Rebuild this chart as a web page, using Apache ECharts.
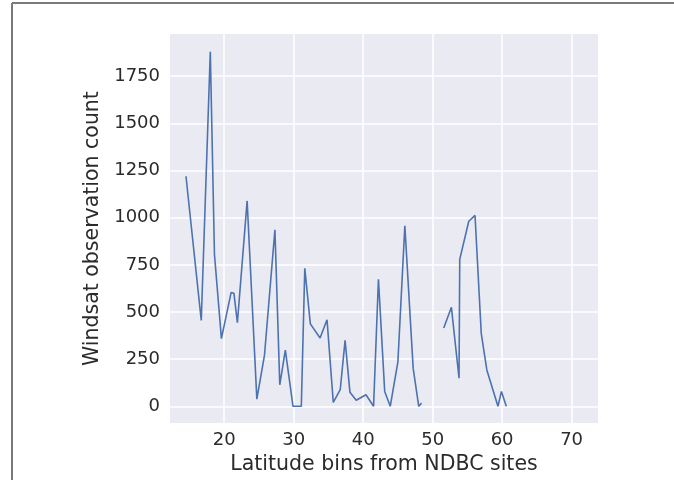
<!DOCTYPE html>
<html>
<head>
<meta charset="utf-8">
<script src="https://cdn.jsdelivr.net/npm/echarts@6/dist/echarts.min.js"></script>
<style>
  html, body { margin: 0; padding: 0; background: #ffffff; }
  #chart { width: 674px; height: 480px; }
</style>
</head>
<body>
<div id="chart"></div>
<script>
// Latitude bin centres (degrees) and WindSat observation counts per bin.
// A null count marks bins with no data, which breaks the line.
const latitude = [
  14.5, 16.7, 18.0, 18.6, 19.6, 21.0, 21.4, 21.9, 23.3, 24.7,
  25.8, 27.3, 28.0, 28.8, 29.9, 31.1, 31.6, 32.4, 33.8, 34.8,
  35.7, 36.7, 37.4, 38.1, 39.0, 40.4, 41.5, 42.2, 43.1, 43.9,
  45.0, 46.0, 47.2, 48.0, 48.4, 50.0, 51.6, 52.7, 53.8, 53.9,
  55.2, 56.1, 57.0, 57.8, 59.4, 59.9, 60.6
];
const obsCount = [
  1220, 455, 1880, 805, 359, 604, 599, 443, 1089, 38,
  272, 936, 114, 298, 0, 0, 732, 437, 362, 459,
  21, 88, 350, 74, 32, 61, 0, 674, 79, 0,
  236, 957, 201, 0, 17, null, 415, 525, 149, 779,
  981, 1012, 385, 193, 0, 79, 0
];

const xTicks = [20, 30, 40, 50, 60, 70];
const yTicks = [0, 250, 500, 750, 1000, 1250, 1500, 1750];
const xRange = [12.2, 73.8];
const yRange = [-89, 1974];

const FONT = 'DejaVu Sans';
const TEXT = '#2b2b2b';

const chart = echarts.init(document.getElementById('chart'), null, { renderer: 'canvas' });

const seriesData = latitude.map((lat, i) => [lat, obsCount[i] === null ? '-' : obsCount[i]]);
const plain = v => String(v);

chart.setOption({
  animation: false,
  backgroundColor: '#ffffff',
  graphic: [
    { type: 'line', shape: { x1: 12, y1: 3, x2: 12, y2: 480 }, style: { stroke: '#7a7a7a', lineWidth: 2 } },
    { type: 'line', shape: { x1: 12, y1: 3, x2: 674, y2: 3 }, style: { stroke: '#7a7a7a', lineWidth: 2 } }
  ],
  grid: {
    left: 170, top: 34, width: 428, height: 393,
    show: true, backgroundColor: '#EAEAF2', borderWidth: 0,
    containLabel: false
  },
  xAxis: {
    type: 'value',
    min: xRange[0], max: xRange[1],
    name: 'Latitude bins from NDBC sites',
    nameLocation: 'middle',
    nameGap: 25,
    nameTextStyle: { fontFamily: FONT, fontSize: 20.5, color: TEXT },
    axisLine: { show: false },
    axisTick: { show: false, customValues: xTicks },
    axisLabel: { customValues: xTicks, formatter: plain, fontFamily: FONT, fontSize: 18, color: TEXT, margin: 8 },
    splitLine: { show: true, lineStyle: { color: '#ffffff', width: 1.5 } }
  },
  yAxis: {
    type: 'value',
    min: yRange[0], max: yRange[1],
    name: 'Windsat observation count',
    nameLocation: 'middle',
    nameGap: 60,
    nameTextStyle: { fontFamily: FONT, fontSize: 20.5, color: TEXT },
    axisLine: { show: false },
    axisTick: { show: false, customValues: yTicks },
    axisLabel: { customValues: yTicks, formatter: plain, fontFamily: FONT, fontSize: 18, color: TEXT, margin: 10 },
    splitLine: { show: true, lineStyle: { color: '#ffffff', width: 1.5 } }
  },
  series: [{
    type: 'line',
    data: seriesData,
    showSymbol: false,
    connectNulls: false,
    lineStyle: { color: '#4C72B0', width: 1.6 },
    itemStyle: { color: '#4C72B0' }
  }]
});
</script>
</body>
</html>
